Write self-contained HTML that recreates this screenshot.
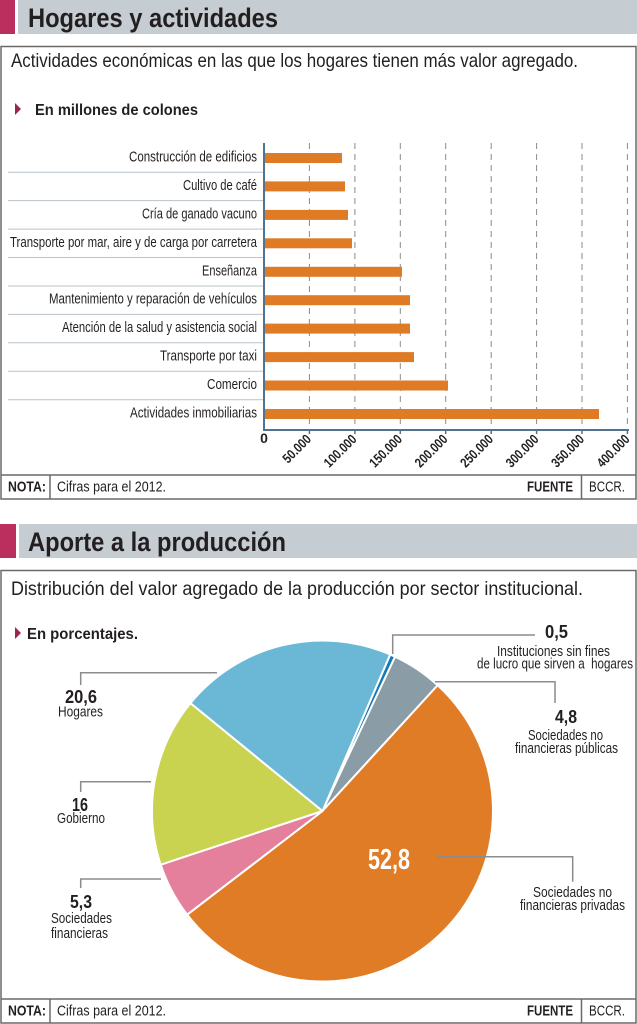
<!DOCTYPE html>
<html><head><meta charset="utf-8"><style>
html,body{margin:0;padding:0;background:#fff;}
svg{display:block;}
text{font-family:"Liberation Sans",Arial,sans-serif;fill:#231f20;}
.b{font-weight:bold;}
</style></head><body>
<svg width="637" height="1024" viewBox="0 0 637 1024" xmlns="http://www.w3.org/2000/svg">
<rect x="0" y="0" width="637" height="1024" fill="#fff"/>

<!-- Title 1 -->
<rect x="0" y="0" width="15" height="34" fill="#bb2f5e"/>
<rect x="18" y="0" width="619" height="34" fill="#c6cdd2"/>
<text class="b" x="28" y="27" font-size="27" textLength="250" lengthAdjust="spacingAndGlyphs">Hogares y actividades</text>

<!-- Box 1 -->
<rect x="1" y="46.5" width="635" height="452.5" fill="none" stroke="#6a6a6a" stroke-width="1.5"/>
<text x="11" y="67" font-size="19.5" textLength="567" lengthAdjust="spacingAndGlyphs">Actividades económicas en las que los hogares tienen más valor agregado.</text>
<polygon points="15,103 21,109 15,115" fill="#9b2450"/>
<text class="b" x="35" y="115" font-size="15.5" textLength="163" lengthAdjust="spacingAndGlyphs">En millones de colones</text>

<!-- separators -->
<g stroke="#b9c3ca" stroke-width="1">
<line x1="8" y1="172.2" x2="263" y2="172.2"/>
<line x1="8" y1="200.6" x2="263" y2="200.6"/>
<line x1="8" y1="229.1" x2="263" y2="229.1"/>
<line x1="8" y1="257.5" x2="263" y2="257.5"/>
<line x1="8" y1="286" x2="263" y2="286"/>
<line x1="8" y1="314.4" x2="263" y2="314.4"/>
<line x1="8" y1="342.8" x2="263" y2="342.8"/>
<line x1="8" y1="371.3" x2="263" y2="371.3"/>
<line x1="8" y1="399.7" x2="263" y2="399.7"/>
</g>

<!-- gridlines -->
<g stroke="#8a8a8a" stroke-width="1" stroke-dasharray="6,5">
<line x1="309.4" y1="143" x2="309.4" y2="430"/>
<line x1="354.9" y1="143" x2="354.9" y2="430"/>
<line x1="400.3" y1="143" x2="400.3" y2="430"/>
<line x1="445.7" y1="143" x2="445.7" y2="430"/>
<line x1="491.2" y1="143" x2="491.2" y2="430"/>
<line x1="536.6" y1="143" x2="536.6" y2="430"/>
<line x1="582" y1="143" x2="582" y2="430"/>
<line x1="627.4" y1="143" x2="627.4" y2="430"/>
</g>

<!-- bars -->
<g fill="#e07b25">
<rect x="265" y="153" width="77" height="10"/>
<rect x="265" y="181.4" width="80" height="10"/>
<rect x="265" y="209.9" width="83" height="10"/>
<rect x="265" y="238.3" width="87" height="10"/>
<rect x="265" y="266.8" width="137" height="10"/>
<rect x="265" y="295.2" width="145" height="10"/>
<rect x="265" y="323.6" width="145" height="10"/>
<rect x="265" y="352.1" width="149" height="10"/>
<rect x="265" y="380.5" width="183" height="10"/>
<rect x="265" y="409" width="334" height="10"/>
</g>

<!-- axes -->
<g stroke="#4f7393" stroke-width="2">
<line x1="264" y1="143" x2="264" y2="431"/>
<line x1="263" y1="430" x2="629" y2="430"/>
</g>
<g stroke="#4f7393" stroke-width="1.5">
<line x1="309.4" y1="430" x2="309.4" y2="434"/>
<line x1="354.9" y1="430" x2="354.9" y2="434"/>
<line x1="400.3" y1="430" x2="400.3" y2="434"/>
<line x1="445.7" y1="430" x2="445.7" y2="434"/>
<line x1="491.2" y1="430" x2="491.2" y2="434"/>
<line x1="536.6" y1="430" x2="536.6" y2="434"/>
<line x1="582" y1="430" x2="582" y2="434"/>
<line x1="627.4" y1="430" x2="627.4" y2="434"/>
</g>

<!-- category labels -->
<g font-size="15" text-anchor="end">
<text x="257" y="161.5" textLength="128" lengthAdjust="spacingAndGlyphs">Construcción de edificios</text>
<text x="257" y="189.9" textLength="74" lengthAdjust="spacingAndGlyphs">Cultivo de café</text>
<text x="257" y="218.4" textLength="115" lengthAdjust="spacingAndGlyphs">Cría de ganado vacuno</text>
<text x="257" y="246.8" textLength="247" lengthAdjust="spacingAndGlyphs">Transporte por mar, aire y de carga por carretera</text>
<text x="257" y="275.3" textLength="55" lengthAdjust="spacingAndGlyphs">Enseñanza</text>
<text x="257" y="303.7" textLength="208" lengthAdjust="spacingAndGlyphs">Mantenimiento y reparación de vehículos</text>
<text x="257" y="332.1" textLength="195" lengthAdjust="spacingAndGlyphs">Atención de la salud y asistencia social</text>
<text x="257" y="360.6" textLength="97" lengthAdjust="spacingAndGlyphs">Transporte por taxi</text>
<text x="257" y="389" textLength="50" lengthAdjust="spacingAndGlyphs">Comercio</text>
<text x="257" y="417.5" textLength="127" lengthAdjust="spacingAndGlyphs">Actividades inmobiliarias</text>
</g>

<!-- tick labels -->
<text class="b" x="264" y="443" font-size="14" text-anchor="middle">0</text>
<g font-size="13.5" text-anchor="end" font-weight="bold">
<text transform="translate(312,440) rotate(-45)" textLength="34" lengthAdjust="spacingAndGlyphs">50.000</text>
<text transform="translate(357.5,440) rotate(-45)" textLength="40" lengthAdjust="spacingAndGlyphs">100.000</text>
<text transform="translate(403,440) rotate(-45)" textLength="40" lengthAdjust="spacingAndGlyphs">150.000</text>
<text transform="translate(448.5,440) rotate(-45)" textLength="40" lengthAdjust="spacingAndGlyphs">200.000</text>
<text transform="translate(494,440) rotate(-45)" textLength="40" lengthAdjust="spacingAndGlyphs">250.000</text>
<text transform="translate(539.5,440) rotate(-45)" textLength="40" lengthAdjust="spacingAndGlyphs">300.000</text>
<text transform="translate(585,440) rotate(-45)" textLength="40" lengthAdjust="spacingAndGlyphs">350.000</text>
<text transform="translate(630.5,440) rotate(-45)" textLength="40" lengthAdjust="spacingAndGlyphs">400.000</text>
</g>

<!-- NOTA row 1 -->
<g stroke="#6a6a6a" stroke-width="1.5">
<line x1="1" y1="475" x2="636" y2="475"/>
<line x1="50" y1="475" x2="50" y2="499"/>
<line x1="581.5" y1="475" x2="581.5" y2="499"/>
</g>
<text class="b" x="8" y="491.5" font-size="15" textLength="38" lengthAdjust="spacingAndGlyphs">NOTA:</text>
<text x="57" y="491.5" font-size="15" textLength="109" lengthAdjust="spacingAndGlyphs">Cifras para el 2012.</text>
<text class="b" x="527" y="491.5" font-size="15" textLength="46" lengthAdjust="spacingAndGlyphs">FUENTE</text>
<text x="589" y="491.5" font-size="15" textLength="36" lengthAdjust="spacingAndGlyphs">BCCR.</text>

<!-- Title 2 -->
<rect x="0" y="524" width="16" height="34" fill="#bb2f5e"/>
<rect x="19" y="524" width="618" height="34" fill="#c6cdd2"/>
<text class="b" x="28" y="551" font-size="27" textLength="258" lengthAdjust="spacingAndGlyphs">Aporte a la producción</text>

<!-- Box 2 -->
<rect x="1" y="570.5" width="635" height="452.5" fill="none" stroke="#6a6a6a" stroke-width="1.5"/>
<text x="11" y="595" font-size="19.5" textLength="572" lengthAdjust="spacingAndGlyphs">Distribución del valor agregado de la producción por sector institucional.</text>
<polygon points="15,627 21,633 15,639" fill="#9b2450"/>
<text class="b" x="27" y="639" font-size="15.5" textLength="111" lengthAdjust="spacingAndGlyphs">En porcentajes.</text>

<!-- Pie -->
<g stroke="#fff" stroke-width="2" stroke-linejoin="round">
<path d="M322.5,811 L390.21,654.52 A170.5,170.5 0 0 1 395.10,656.73 Z" fill="#1579b3"/>
<path d="M322.5,811 L395.10,656.73 A170.5,170.5 0 0 1 437.64,685.26 Z" fill="#8a9da7"/>
<path d="M322.5,811 L437.64,685.26 A170.5,170.5 0 1 1 187.12,914.66 Z" fill="#e07c26"/>
<path d="M322.5,811 L187.12,914.66 A170.5,170.5 0 0 1 160.68,864.71 Z" fill="#e47f9c"/>
<path d="M322.5,811 L160.68,864.71 A170.5,170.5 0 0 1 190.46,703.12 Z" fill="#c9d34f"/>
<path d="M322.5,811 L190.46,703.12 A170.5,170.5 0 0 1 390.21,654.52 Z" fill="#6bb8d6"/>
</g>

<!-- leaders -->
<g fill="none" stroke="#8c8c8c" stroke-width="1.5">
<path d="M80.7,685 V672.7 H217"/>
<path d="M80.7,792 V781.7 H151"/>
<path d="M80.7,888 V879 H161"/>
<path d="M392.7,654 V635 H535"/>
<path d="M435,681.7 H555 V703"/>
<path d="M436.7,856.7 H572.7 V881.7"/>
</g>

<!-- pie labels -->
<g text-anchor="middle">
<text class="b" x="81" y="703" font-size="18.5" textLength="32" lengthAdjust="spacingAndGlyphs">20,6</text>
<text x="80.5" y="716.5" font-size="15" textLength="45" lengthAdjust="spacingAndGlyphs">Hogares</text>
<text class="b" x="80" y="811" font-size="18.5" textLength="16" lengthAdjust="spacingAndGlyphs">16</text>
<text x="81" y="823" font-size="15" textLength="48" lengthAdjust="spacingAndGlyphs">Gobierno</text>
<text class="b" x="81" y="908" font-size="18.5" textLength="22" lengthAdjust="spacingAndGlyphs">5,3</text>
<text x="81.5" y="923" font-size="15" textLength="61" lengthAdjust="spacingAndGlyphs">Sociedades</text>
<text x="79.5" y="938" font-size="15" textLength="57" lengthAdjust="spacingAndGlyphs">financieras</text>

<text class="b" x="556.5" y="638" font-size="18.5" textLength="23" lengthAdjust="spacingAndGlyphs">0,5</text>
<text x="553.5" y="656" font-size="15" textLength="113" lengthAdjust="spacingAndGlyphs">Instituciones sin fines</text>
<text x="555" y="668.5" font-size="15" textLength="156" lengthAdjust="spacingAndGlyphs">de lucro que sirven a&#160; hogares</text>

<text class="b" x="566" y="723" font-size="18.5" textLength="22" lengthAdjust="spacingAndGlyphs">4,8</text>
<text x="565.5" y="740" font-size="15" textLength="75" lengthAdjust="spacingAndGlyphs">Sociedades no</text>
<text x="566.5" y="753" font-size="15" textLength="103" lengthAdjust="spacingAndGlyphs">financieras públicas</text>

<text class="b" x="389" y="869" font-size="29" textLength="42" lengthAdjust="spacingAndGlyphs" style="fill:#fff">52,8</text>
<text x="572.5" y="897" font-size="15" textLength="79" lengthAdjust="spacingAndGlyphs">Sociedades no</text>
<text x="572.5" y="910" font-size="15" textLength="105" lengthAdjust="spacingAndGlyphs">financieras privadas</text>
</g>

<!-- NOTA row 2 -->
<g stroke="#6a6a6a" stroke-width="1.5">
<line x1="1" y1="999" x2="636" y2="999"/>
<line x1="50" y1="999" x2="50" y2="1023"/>
<line x1="581.5" y1="999" x2="581.5" y2="1023"/>
</g>
<text class="b" x="8" y="1015.5" font-size="15" textLength="38" lengthAdjust="spacingAndGlyphs">NOTA:</text>
<text x="57" y="1015.5" font-size="15" textLength="109" lengthAdjust="spacingAndGlyphs">Cifras para el 2012.</text>
<text class="b" x="527" y="1015.5" font-size="15" textLength="46" lengthAdjust="spacingAndGlyphs">FUENTE</text>
<text x="589" y="1015.5" font-size="15" textLength="36" lengthAdjust="spacingAndGlyphs">BCCR.</text>
</svg>
</body></html>
